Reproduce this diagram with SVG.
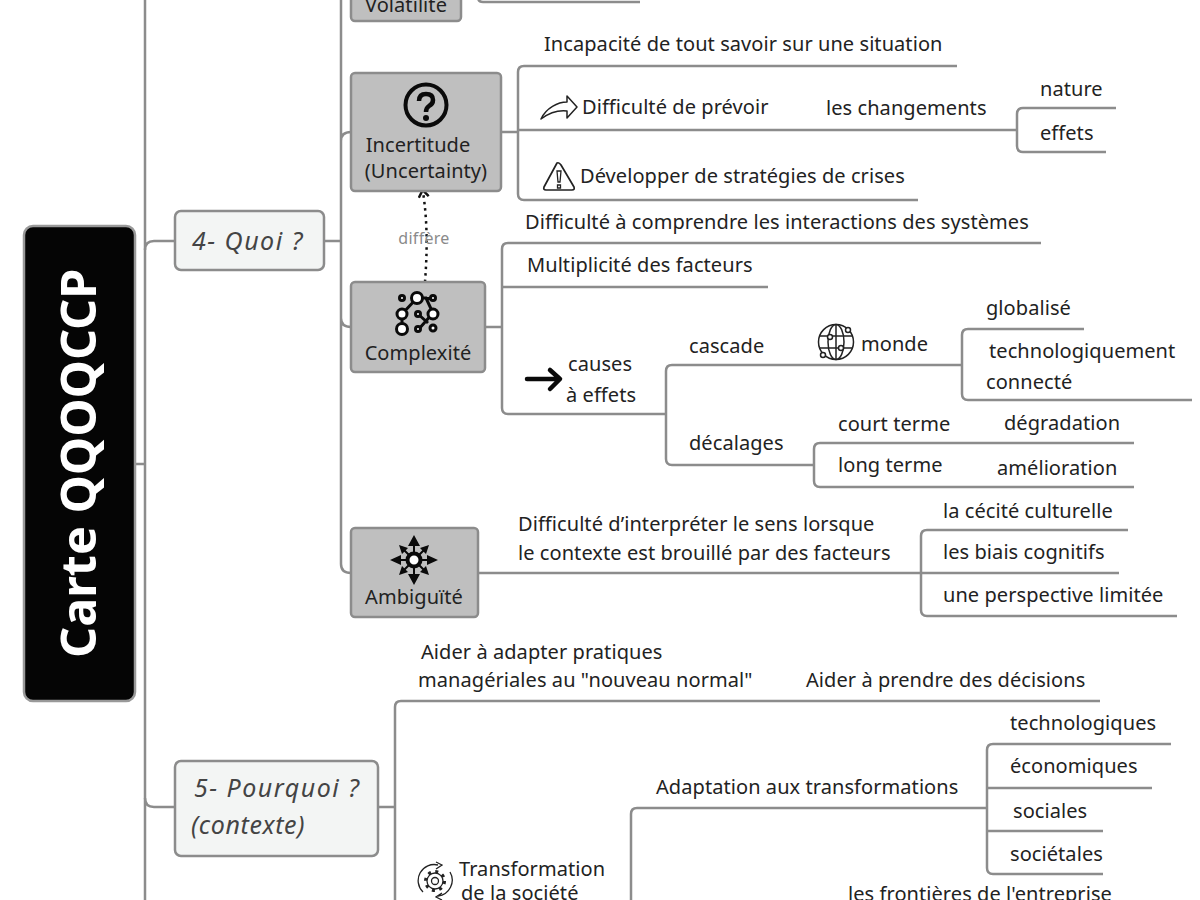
<svg xmlns="http://www.w3.org/2000/svg" width="1200" height="900" viewBox="0 0 1200 900">
<style>
text{font-family:"Noto Sans","Open Sans","DejaVu Sans",sans-serif;font-size:20px;fill:#222;letter-spacing:.07px}
.c{text-anchor:middle}
.i{font-style:italic;font-size:25px;fill:#444;letter-spacing:1.5px}
.l{fill:none;stroke:#8c8c8c;stroke-width:2.5}
.b{fill:#bfbfbf;stroke:#8c8c8c;stroke-width:2.5}
.t{fill:#f3f5f4;stroke:#8c8c8c;stroke-width:2.5}
</style>
<defs>
<marker id="ah" markerWidth="12" markerHeight="12" refX="6" refY="6" orient="auto" markerUnits="userSpaceOnUse"><path d="M1 1L8 6L1 11" fill="none" stroke="#111" stroke-width="2.500"/></marker>
</defs>
<rect width="1200" height="900" fill="#fff"/>
<g id="connectors">
<path class="l" d="M135 464H145M145 0V900"/>
<path class="l" d="M145 250Q145 241 154 241H175M145 798Q145 807 154 807H175"/>
<path class="l" d="M324 241H341M341 0V564Q341 573 351 573M341 141Q341 132 351 132M341 318Q341 327 351 327"/>
<path class="l" d="M478 -8V-3Q478 2 483 2H640"/>
<path class="l" d="M501 132H518M957 66H524Q518 66 518 72V194Q518 200 524 200H918M518 130H1017M1116 108H1023Q1017 108 1017 114V146Q1017 152 1023 152H1106"/>
<path class="l" d="M485 327H502M1041 243H508Q502 243 502 249V408Q502 414 508 414H666M768 287H502"/>
<path class="l" d="M666 414V371Q666 365 672 365H962M666 414V459Q666 465 672 465H814M1084 329H968Q962 329 962 335V394Q962 400 968 400H1192M1134 443H820Q814 443 814 449V481Q814 487 820 487H1134"/>
<path class="l" d="M478 573H921M1128 530H927Q921 530 921 536V610Q921 616 927 616H1177M921 573H1119"/>
<path class="l" d="M378 807H395M1100 701H401Q395 701 395 707V900"/>
<path class="l" d="M987 808H637Q631 808 631 814V900M1171 744H993Q987 744 987 750V868Q987 874 993 874H1103M987 788H1152M987 831H1103"/>
<path d="M425 282C427 255 428 225 423 192" fill="none" stroke="#111" stroke-width="2.5" stroke-dasharray="2.5 4" marker-end="url(#ah)"/>
</g>
<g id="center"><rect x="24" y="226" width="111" height="475" rx="9" fill="#050505" stroke="#999" stroke-width="2.5"/><text transform="translate(96 658) rotate(-90)" style="font-size:48.500px;font-weight:700;fill:#fff;letter-spacing:0">Carte QQOQCCP</text></g>
<g id="quoi"><rect class="t" x="175" y="211" width="149" height="59" rx="6"/><text class="i" x="192" y="250">4- Quoi ?</text></g>
<g id="pourquoi"><rect class="t" x="175" y="761" width="203" height="95" rx="6"/><text class="i" x="194" y="797">5- Pourquoi ?</text><text class="i" x="191" y="834" style="letter-spacing:.6px">(contexte)</text></g>
<g id="volatilite"><rect class="b" x="351" y="-40" width="110" height="61" rx="4"/><text class="c" x="406" y="12">Volatilité</text></g>
<g id="incertitude"><rect class="b" x="351" y="73" width="150" height="118" rx="4"/>
<circle cx="426" cy="105" r="20.5" fill="none" stroke="#0a0a0a" stroke-width="4"/><path d="M419 101Q419 94 426 94Q433 94 433 100Q433 104 429 106Q426 108 426 112" fill="none" stroke="#0a0a0a" stroke-width="4.500"/><circle cx="426" cy="118" r="3" fill="#0a0a0a"/>
<text class="c" x="418" y="152">Incertitude</text><text class="c" x="426" y="178">(Uncertainty)</text></g>
<g id="complexite"><rect class="b" x="351" y="282" width="134" height="90" rx="4"/>
<g fill="#fff" stroke="#0a0a0a" stroke-width="3"><path fill="none" d="M402 329V314L417 298H426L433 313L418 330M432 299L426 298M418 314L428 323"/><circle cx="417" cy="298" r="5.500"/><circle cx="402" cy="314" r="5"/><circle cx="433" cy="314" r="5"/><circle cx="402" cy="329" r="5.500"/><circle cx="402" cy="298" r="2.500"/><circle cx="433" cy="298" r="2.500"/><circle cx="418" cy="314" r="2.500"/><circle cx="418" cy="329" r="2.500"/><circle cx="433" cy="328" r="3"/></g>
<text class="c" x="418" y="360">Complexité</text></g>
<g id="ambiguite"><rect class="b" x="351" y="528" width="127" height="89" rx="4"/>
<g stroke="#0a0a0a" stroke-width="2" fill="#0a0a0a"><path d="M414 540V580M394 560H434M401 547L427 573M427 547L401 573"/><path stroke="none" d="M414 535L408 546H420ZM414 585L408 574H420ZM390 560L401 555V565ZM438 560L427 555V565ZM399 545L408 548L402 554ZM429 545L426 554L420 548ZM399 575L402 566L408 572ZM429 575L420 572L426 566Z"/><circle cx="414" cy="560" r="6.500" fill="#fff" stroke-width="4"/></g>
<text class="c" x="414" y="604">Ambiguïté</text></g>
<g id="t-incertitude">
<text x="544" y="51">Incapacité de tout savoir sur une situation</text>
<path d="M541 119C546 108 558 102 567 102V96L577 107L567 118V111C558 110 549 113 541 119Z" fill="none" stroke="#222" stroke-width="1.500" stroke-linejoin="round"/>
<text x="582" y="114">Difficulté de prévoir</text><text x="826" y="115">les changements</text>
<text x="1040" y="96">nature</text><text x="1040" y="140">effets</text>
<path d="M557 163Q559 162 561 165L574 187Q575 190 572 190H546Q543 190 544 187Z" fill="none" stroke="#222" stroke-width="1.700" stroke-linejoin="round"/><path d="M557 171H561L560 182H558ZM557.500 185H560.500V188H557.500Z" fill="none" stroke="#222" stroke-width="1.300"/>
<text x="580" y="183">Développer de stratégies de crises</text></g>
<g id="t-complexite">
<text x="525" y="229">Difficulté à comprendre les interactions des systèmes</text>
<text x="527" y="272">Multiplicité des facteurs</text>
<path d="M527 379H558M550 370L560 379L550 389" fill="none" stroke="#0a0a0a" stroke-width="4.500" stroke-linecap="round" stroke-linejoin="round"/>
<text x="568" y="371">causes</text><text x="566" y="402">à effets</text>
<text x="689" y="353">cascade</text>
<g fill="none" stroke="#222" stroke-width="1.500"><circle cx="836" cy="342" r="17.500"/><ellipse cx="836" cy="342" rx="8" ry="17.500"/><path d="M819 336H853M819 348H853M836 325V359"/><g fill="#fff"><circle cx="830" cy="337" r="2.500"/><circle cx="848" cy="330" r="2.500"/><circle cx="841" cy="348" r="2.500"/><circle cx="823" cy="355" r="2.500"/></g></g>
<text x="861" y="351">monde</text>
<text x="986" y="315">globalisé</text><text x="989" y="358">technologiquement</text><text x="986" y="389">connecté</text>
<text x="689" y="450">décalages</text><text x="838" y="431">court terme</text><text x="838" y="472">long terme</text>
<text x="1004" y="430">dégradation</text><text x="997" y="475">amélioration</text></g>
<g id="t-ambiguite">
<text x="518" y="531">Difficulté d’interpréter le sens lorsque</text><text x="518" y="560">le contexte est brouillé par des facteurs</text>
<text x="943" y="518">la cécité culturelle</text><text x="943" y="559">les biais cognitifs</text><text x="943" y="602">une perspective limitée</text></g>
<g id="t-pourquoi">
<text x="421" y="659">Aider à adapter pratiques</text><text x="418" y="687">managériales au "nouveau normal"</text><text x="806" y="687">Aider à prendre des décisions</text>
<text x="656" y="794">Adaptation aux transformations</text>
<text x="1010" y="730">technologiques</text><text x="1010" y="773">économiques</text><text x="1013" y="818">sociales</text><text x="1010" y="861">sociétales</text>
<g fill="none" stroke="#222" stroke-width="1.300"><path d="M423 892A16 16 0 0 1 438 865M450 872A16 16 0 0 1 438 896M436 862L442 865L436 869M442 893L436 897L442 900"/><circle cx="435" cy="881" r="3.500"/><circle cx="435" cy="881" r="8"/><circle cx="435" cy="881" r="9.500" stroke-width="3" stroke-dasharray="3 4.460"/></g>
<text x="459" y="876">Transformation</text><text x="461" y="900">de la société</text>
<text x="848" y="901">les frontières de l'entreprise</text></g>
<text class="c" x="424" y="244" style="font-size:16px;fill:#8a8a8a;letter-spacing:.3px">diffère</text>
</svg>
